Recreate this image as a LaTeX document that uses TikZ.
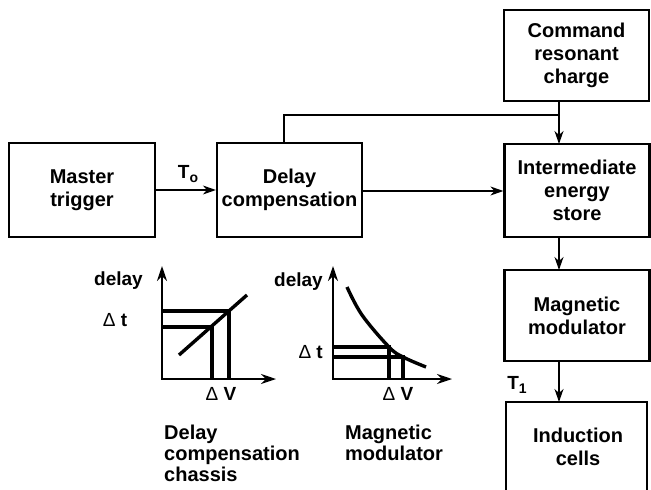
\documentclass[tikz,border=0pt]{standalone}
\usepackage{fontspec}
\setmainfont{Liberation Sans}
\usetikzlibrary{arrows.meta}
\newcommand{\subtxt}[1]{\raisebox{-4pt}{\fontsize{14}{14}\selectfont #1}}
\begin{document}
\begin{tikzpicture}[x=1pt,y=-1pt,
  blk/.style={draw, line width=2.2pt, inner sep=0pt, align=center,
    font=\fontsize{20}{23}\selectfont\bfseries},
  conn/.style={line width=1.2pt, -{Stealth[length=13pt,width=9pt,inset=4pt]}},
  plain/.style={line width=1.2pt},
  axis/.style={line width=1.8pt, {Stealth[length=15pt,width=10pt,inset=5pt]}-{Stealth[length=15pt,width=10pt,inset=5pt]}},
  dline/.style={line width=3.4pt},
  lbl/.style={inner sep=0pt, font=\fontsize{19}{21}\selectfont\bfseries},
  captxt/.style={inner sep=0pt, align=left, font=\fontsize{20}{21}\selectfont\bfseries}]
\useasboundingbox (0,0) rectangle (651,490);
\begin{scope}
\clip (0,0) rectangle (651,490);
% blocks
\node[blk, minimum width=146pt, minimum height=94pt] (master) at (82,190) {Master\\trigger};
\node[blk, minimum width=145pt, minimum height=94pt] (delay) at (289.5,190) {Delay\\compensation};
\node[blk, minimum width=145pt, minimum height=91pt] (command) at (576.5,55.5) {Command\\resonant\\charge};
\node[blk, minimum width=145pt, minimum height=93pt] (inter) at (577,190.5) {Intermediate\\energy\\store};
\node[blk, minimum width=145pt, minimum height=91pt] (magmod) at (577,315.5) {Magnetic\\modulator};
\node[blk, minimum width=141pt, minimum height=120pt] (induct) at (576.5,462) {};
\node[blk, draw=none] (inducttxt) at (578,447) {Induction\\cells};
\end{scope}
% connectors
\coordinate (cmdout) at (559,101);
\coordinate (interin) at (559,144);
\coordinate (fbup) at (284,143);
\coordinate (fbtop) at (284,115);
\coordinate (fbjoin) at (559,115);
\draw[conn] (master.east |- 0,190) -- (delay.west |- 0,190);
\draw[conn] (delay.east |- 0,191) -- (inter.west |- 0,191);
\draw[conn] (cmdout) -- (interin);
\draw[plain] (fbup) -- (fbtop) -- (fbjoin);
\coordinate (interout) at (559,237);
\coordinate (magin) at (559,270);
\coordinate (magout) at (559,361);
\coordinate (indin) at (559,402);
\draw[conn] (interout) -- (magin);
\draw[conn] (magout) -- (indin);
\node[lbl] (To) at (188,174) {T\subtxt{o}};
\node[lbl] (T1) at (517,385) {T\subtxt{1}};
% graph 1
\coordinate (g1top) at (162,266);
\coordinate (g1o) at (162,379);
\coordinate (g1right) at (276,379);
\draw[axis] (g1top) -- (g1o) -- (g1right);
\coordinate (g1a) at (229,311);
\coordinate (g1b) at (212,327);
\draw[dline] (g1o |- g1a) -- (g1a) -- (g1a |- g1o);
\draw[dline] (g1o |- g1b) -- (g1b) -- (g1b |- g1o);
\coordinate (g1s) at (179,355);
\coordinate (g1e) at (247,295);
\draw[dline] (g1s) -- (g1e);
\node[lbl, anchor=east] (g1delay) at (143,281) {delay};
\node[lbl] (g1dt) at (115,320) {{\mdseries Δ} t};
\node[lbl] (g1dv) at (221,394) {{\mdseries Δ} V};
\node[captxt, anchor=north west] (g1cap) at (164,425) {Delay\\compensation\\chassis};
% graph 2
\coordinate (g2top) at (333,266);
\coordinate (g2o) at (333,379);
\coordinate (g2right) at (452,379);
\draw[axis] (g2top) -- (g2o) -- (g2right);
\coordinate (g2a) at (389,347);
\coordinate (g2b) at (403,357);
\draw[dline] (g2o |- g2a) -- (g2a) -- (g2a |- g2o);
\draw[dline] (g2o |- g2b) -- (g2b) -- (g2b |- g2o);
\draw[dline] plot[smooth, tension=0.6] coordinates {(347,287) (362,315) (389,347) (403,357) (426,367)};
\node[lbl, anchor=east] (g2delay) at (323,282) {delay};
\node[lbl, anchor=east] (g2dt) at (323,352) {{\mdseries Δ} t};
\node[lbl] (g2dv) at (398,394) {{\mdseries Δ} V};
\node[captxt, anchor=north west] (g2cap) at (345,425) {Magnetic\\modulator};
\end{tikzpicture}
\end{document}
